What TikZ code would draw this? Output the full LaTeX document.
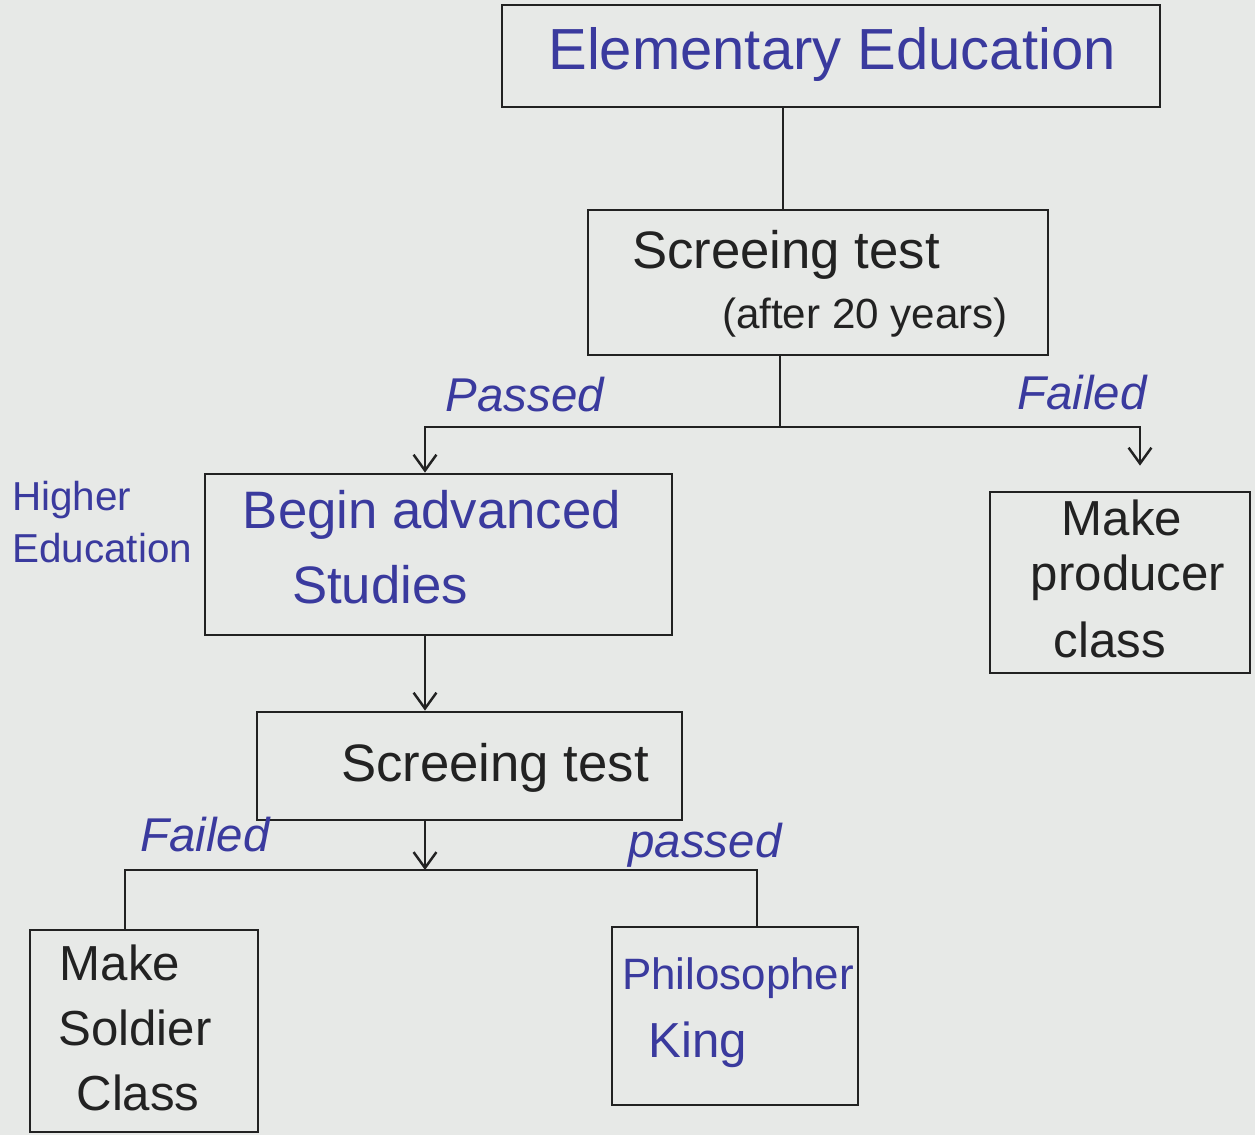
\documentclass[tikz,border=0pt]{standalone}
\usepackage{fontspec}
\setmainfont{Liberation Sans}
\usetikzlibrary{arrows.meta,calc}
\definecolor{paper}{HTML}{E7E9E7}
\definecolor{ink}{HTML}{3A3A9E}
\definecolor{pen}{HTML}{222222}
\begin{document}
\begin{tikzpicture}[x=0.02cm,y=-0.02cm,
  box/.style={draw=pen,line width=1.6pt,inner sep=0pt},
  conn/.style={draw=pen,line width=1.5pt},
  arr/.style={conn,-{Straight Barb[length=9pt,width=13pt,line width=1.4pt]}},
  blk/.style={text=pen,font=\fontsize{30}{36}\selectfont,inner sep=0pt},
  blu/.style={text=ink,font=\fontsize{30}{36}\selectfont,inner sep=0pt},
  lbl/.style={text=ink,font=\fontsize{27}{32}\selectfont\itshape,inner sep=0pt}]
\fill[paper] (0,0) rectangle (1255,1135);
\useasboundingbox (0,0) rectangle (1255,1135);
% boxes
\node[box,minimum width=13.16cm,minimum height=2.04cm] (ee)  at (831,56) {};
\node[box,minimum width=9.2cm,minimum height=2.9cm]    (st1) at (818,282.5) {};
\node[box,minimum width=9.34cm,minimum height=3.22cm]  (bas) at (438.5,554.5) {};
\node[box,minimum width=5.2cm,minimum height=3.62cm]   (mpc) at (1120,582.5) {};
\node[box,minimum width=8.5cm,minimum height=2.16cm]   (st2) at (469.5,766) {};
\node[box,minimum width=4.56cm,minimum height=4.04cm]  (msc) at (144,1031) {};
\node[box,minimum width=4.92cm,minimum height=3.56cm]  (pk)  at (735,1016) {};
% texts
\node[blu,font=\fontsize{33}{38}\selectfont] (t-ee) at (832,55) {Elementary Education};
\node[blk] (t-st1a) at (786,255) {Screeing test};
\node[blk,font=\fontsize{24}{28}\selectfont] (t-st1b) at (865,318) {(after 20 years)};
\node[blu] (t-basa) at (432,515) {Begin advanced};
\node[blu] (t-basb) at (380,585) {Studies};
\node[blk,font=\fontsize{28}{32}\selectfont] (t-mpca) at (1122,518) {Make};
\node[blk,font=\fontsize{28}{32}\selectfont] (t-mpcb) at (1128,578) {producer};
\node[blk,font=\fontsize{28}{32}\selectfont] (t-mpcc) at (1110,640) {class};
\node[blk] (t-st2) at (495,768) {Screeing test};
\node[blk,font=\fontsize{28}{32}\selectfont] (t-msca) at (120,963) {Make};
\node[blk,font=\fontsize{28}{32}\selectfont] (t-mscb) at (135,1028) {Soldier};
\node[blk,font=\fontsize{28}{32}\selectfont] (t-mscc) at (138,1093) {Class};
\node[blu,font=\fontsize{25}{30}\selectfont] (t-pka) at (738,978) {Philosopher};
\node[blu,font=\fontsize{28}{32}\selectfont] (t-pkb) at (698,1045) {King};
% labels
\node[lbl] (l-pass1) at (525,395) {Passed};
\node[lbl] (l-fail1) at (1082,393) {Failed};
\node[lbl] (l-fail2) at (205,835) {Failed};
\node[lbl] (l-pass2) at (705,845) {passed};
\node[lbl,font=\fontsize{23}{30}\selectfont,align=left,anchor=west] (l-high) at (12,522) {Higher\\Education};
% helper coordinates
\coordinate (xa) at (783,0);
\coordinate (xb) at (780,0);
\coordinate (xc) at (425,0);
\coordinate (xd) at (1140,0);
\coordinate (xe) at (125,0);
\coordinate (xf) at (757,0);
\coordinate (j1) at (780,427);
\coordinate (j2) at (425,870);
% connectors
\draw[conn] (ee.south -| xa) -- (st1.north -| xa);
\draw[conn] (st1.south -| xb) -- (j1);
\draw[arr] (j1) -| (bas.north -| xc);
\draw[arr,shorten >=0.5cm] (j1) -| (mpc.north -| xd);
\draw[arr] (bas.south -| xc) -- (st2.north -| xc);
\draw[arr] (st2.south -| xc) -- (j2);
\draw[conn] (j2) -| (msc.north -| xe);
\draw[conn] (j2) -| (pk.north -| xf);
\end{tikzpicture}
\end{document}
